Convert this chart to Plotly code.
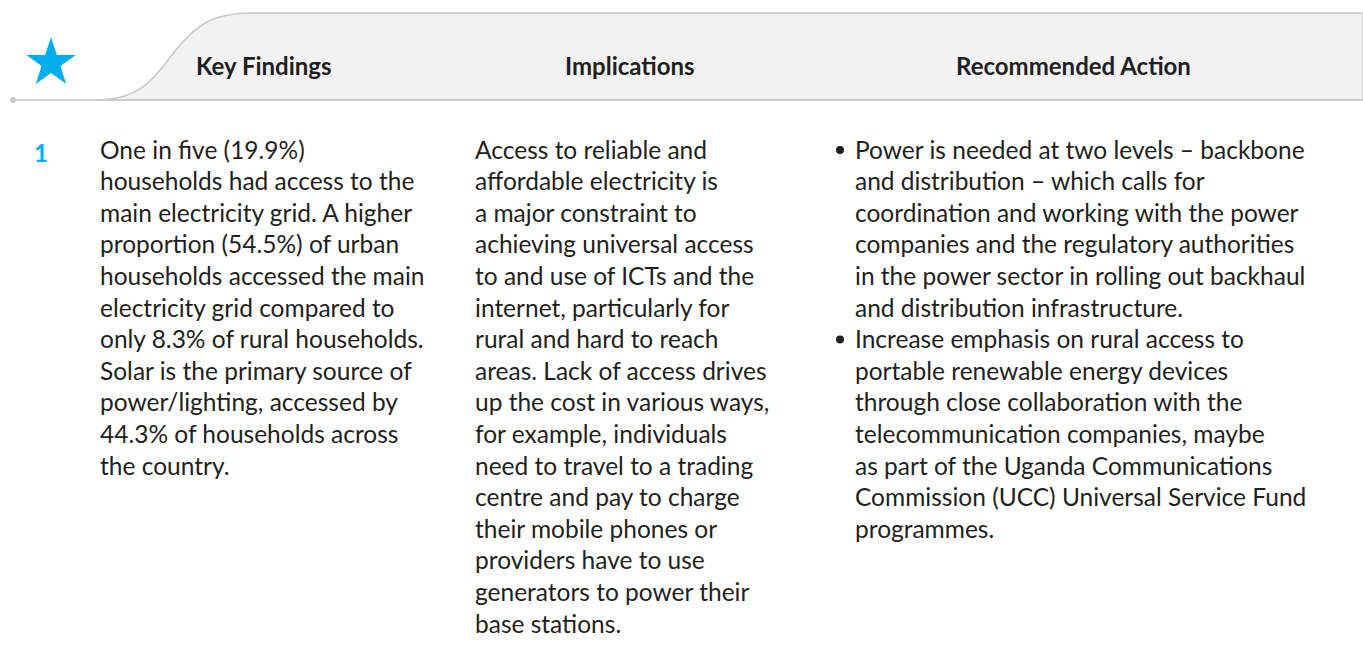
import plotly.graph_objects as go

W, H = 1363, 650

headers = ["Key Findings", "Implications", "Recommended Action"]
row_number = "1"

findings_lines = [
    "One in five (19.9%)",
    "households had access to the",
    "main electricity grid. A higher",
    "proportion (54.5%) of urban",
    "households accessed the main",
    "electricity grid compared to",
    "only 8.3% of rural households.",
    "Solar is the primary source of",
    "power/lighting, accessed by",
    "44.3% of households across",
    "the country.",
]

implications_lines = [
    "Access to reliable and",
    "affordable electricity is",
    "a major constraint to",
    "achieving universal access",
    "to and use of ICTs and the",
    "internet, particularly for",
    "rural and hard to reach",
    "areas. Lack of access drives",
    "up the cost in various ways,",
    "for example, individuals",
    "need to travel to a trading",
    "centre and pay to charge",
    "their mobile phones or",
    "providers have to use",
    "generators to power their",
    "base stations.",
]

action_bullets = [
    [
        "Power is needed at two levels – backbone",
        "and distribution – which calls for",
        "coordination and working with the power",
        "companies and the regulatory authorities",
        "in the power sector in rolling out backhaul",
        "and distribution infrastructure.",
    ],
    [
        "Increase emphasis on rural access to",
        "portable renewable energy devices",
        "through close collaboration with the",
        "telecommunication companies, maybe",
        "as part of the Uganda Communications",
        "Commission (UCC) Universal Service Fund",
        "programmes.",
    ],
]

FONT = "Lato, 'Open Sans', sans-serif"
TXT = "#231f20"
BLUE = "#00aeef"
FS = 24.5
FS_HEAD = 24
LINE_H = 31.6
Y0 = 149

fig = go.Figure()

# header band
shapes = [
    dict(type="path",
         path="M 95,100 C 140,100 152,80 172,55 C 195,25 212,13 252,13 L 1363,13 L 1363,100 Z",
         fillcolor="#f2f2f2", line=dict(color="#c8c8c8", width=1.5), layer="below"),
    dict(type="line", x0=13, x1=1363, y0=100, y1=100,
         line=dict(color="#c8c8c8", width=1.5)),
    dict(type="circle", x0=10, x1=16, y0=97, y1=103,
         fillcolor="#c8c8c8", line=dict(width=0)),
]

# star
fig.add_trace(go.Scatter(x=[51], y=[63], mode="markers",
                         marker=dict(symbol="star", size=37, color=BLUE, line=dict(width=0)),
                         hoverinfo="skip", showlegend=False))

annotations = []
for txt, xc in zip(headers, [264, 630, 1073]):
    annotations.append(dict(x=xc, y=65, text=f"<b>{txt}</b>", showarrow=False,
                            xanchor="center", yanchor="middle",
                            font=dict(family=FONT, size=FS_HEAD, color=TXT)))

annotations.append(dict(x=41, y=152, text=f"<b>{row_number}</b>", showarrow=False,
                        xanchor="center", yanchor="middle",
                        font=dict(family=FONT, size=FS_HEAD, color=BLUE)))


def add_lines(lines, x, start_index=0):
    for i, ln in enumerate(lines):
        annotations.append(dict(x=x, y=Y0 + (start_index + i) * LINE_H, text=ln,
                                showarrow=False, xanchor="left", yanchor="middle",
                                font=dict(family=FONT, size=FS, color=TXT)))


add_lines(findings_lines, 98)
add_lines(implications_lines, 473)

bx, by = [], []
idx = 0
for bullet in action_bullets:
    bx.append(840)
    by.append(Y0 + idx * LINE_H + 1)
    add_lines(bullet, 853, idx)
    idx += len(bullet)

fig.add_trace(go.Scatter(x=bx, y=by, mode="markers",
                         marker=dict(symbol="circle", size=8, color=TXT),
                         hoverinfo="skip", showlegend=False))

fig.update_layout(
    width=W, height=H,
    margin=dict(l=0, r=0, t=0, b=0),
    paper_bgcolor="white", plot_bgcolor="white",
    xaxis=dict(range=[0, W], visible=False, fixedrange=True),
    yaxis=dict(range=[H, 0], visible=False, fixedrange=True),
    shapes=shapes, annotations=annotations,
    showlegend=False,
)

fig.write_html("out.html", config={"displayModeBar": False},
               post_script="document.body.style.margin='0';document.body.style.overflow='hidden';")
